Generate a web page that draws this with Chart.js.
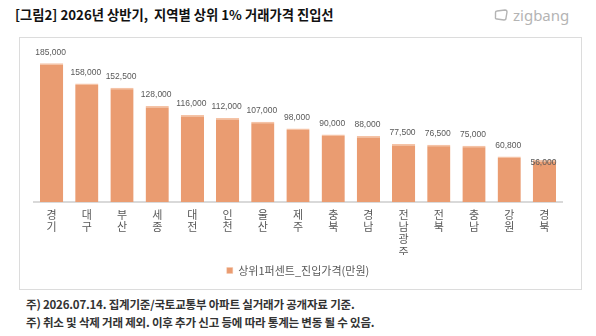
<!DOCTYPE html>
<html><head><meta charset="utf-8">
<script src="https://cdn.jsdelivr.net/npm/chart.js@4"></script>
<style>
html,body{margin:0;padding:0;background:#fff;}
body{width:596px;height:336px;position:relative;overflow:hidden;font-family:"Noto Sans CJK KR",sans-serif;}
#title{position:absolute;left:15px;top:5px;font-size:13.3px;font-weight:bold;color:#111;white-space:pre;}
#logo{position:absolute;left:494px;top:5px;color:#b4b4b4;font-family:"Noto Sans",sans-serif;font-size:15px;display:flex;align-items:center;}
#logo svg{margin-right:4px;}
#box{position:absolute;left:19px;top:37px;width:561px;height:251px;border:1px solid #dcdcdc;}
#wrap{position:absolute;left:0;top:0;width:561px;height:251px;}
.note{position:absolute;left:26px;font-size:11.5px;font-weight:bold;color:#333;white-space:pre;letter-spacing:-0.2px;}
</style></head><body>
<div id="title">[그림2] 2026년 상반기,  지역별 상위 1% 거래가격 진입선</div>
<div id="logo"><svg width="15" height="12" viewBox="0 0 15 12"><path d="M3 2 L11 1 Q13 1 13 3 L12 9 Q12 11 10 11 L3 10 Q1 10 1.5 8 L1.5 4 Q1.5 2 3 2 Z" fill="none" stroke="#b4b4b4" stroke-width="1.4"/></svg><span>zigbang</span></div>
<div id="box"><div id="wrap"><canvas id="c"></canvas></div></div>
<div class="note" style="top:296px;">주) 2026.07.14. 집계기준/국토교통부 아파트 실거래가 공개자료 기준.</div>
<div class="note" style="top:314px;">주) 취소 및 삭제 거래 제외. 이후 추가 신고 등에 따라 통계는 변동 될 수 있음.</div>
<script>
const categories = ['경기','대구','부산','세종','대전','인천','울산','제주','충북','경남','전남광주','전북','충남','강원','경북'];
const values = [185000,158000,152500,128000,116000,112000,107000,98000,90000,88000,77500,76500,75000,60800,56000];
const seriesName = '상위1퍼센트_진입가격(만원)';

const labelPlugin = {
  id: 'valueLabels',
  afterDatasetsDraw(chart) {
    const ctx = chart.ctx;
    const meta = chart.getDatasetMeta(0);
    ctx.save();
    ctx.font = '8.5px "Liberation Sans", sans-serif';
    ctx.fillStyle = '#595959';
    ctx.textAlign = 'center';
    ctx.textBaseline = 'middle';
    meta.data.forEach((bar, i) => {
      const v = chart.data.datasets[0].data[i];
      const txt = v.toLocaleString('en-US');
      const last = i === meta.data.length - 1;
      ctx.fillText(txt, bar.x - 1, last ? bar.y + 3 : bar.y - 11);
    });
    ctx.restore();
  }
};

new Chart(document.getElementById('c'), {
  type: 'bar',
  data: {
    labels: categories,
    datasets: [{
      label: seriesName,
      data: values,
      backgroundColor: '#EA9C71',
      borderColor: '#F5C3A6',
      borderWidth: {top: 1.5, left: 0, right: 0, bottom: 0},
      borderSkipped: 'bottom',
      categoryPercentage: 1,
      barPercentage: 0.66
    }]
  },
  options: {
    responsive: true,
    maintainAspectRatio: false,
    animation: false,
    layout: {padding: {left: 14, right: 19, top: 14, bottom: 3}},
    scales: {
      x: {
        grid: {display: false, drawTicks: false},
        border: {display: true, color: '#d9d9d9', width: 2},
        ticks: {
          padding: 7,
          maxRotation: 0,
          autoSkip: false,
          color: '#595959',
          font: {family: '"Noto Sans CJK KR", sans-serif', size: 11, lineHeight: 1.1},
          callback: function(val) { return this.getLabelForValue(val).split(''); }
        },
        afterFit: s => { s.height = 53; }
      },
      y: {display: false, min: 0, max: 200000}
    },
    plugins: {
      legend: {
        position: 'bottom',
        labels: {
          color: '#595959',
          boxWidth: 6, boxHeight: 6,
          padding: 10,
          font: {family: '"Noto Sans CJK KR", sans-serif', size: 11}
        }
      },
      tooltip: {enabled: false}
    }
  },
  plugins: [labelPlugin]
});
</script>
</body></html>
